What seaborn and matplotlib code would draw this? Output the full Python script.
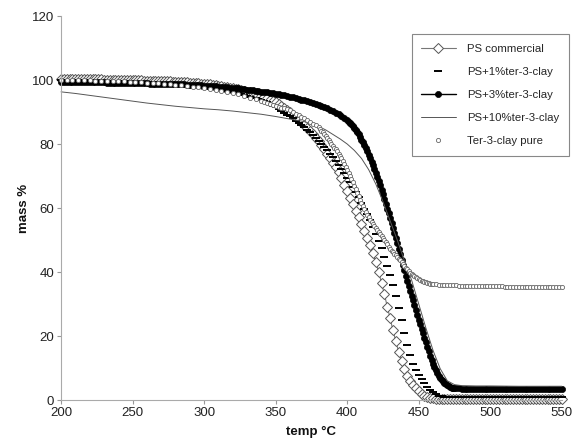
import numpy as np
import pandas as pd
import matplotlib
matplotlib.use("Agg")
import matplotlib.pyplot as plt
import seaborn as sns

# ---------------- data ----------------
labels = ["PS commercial", "PS+1%ter-3-clay", "PS+3%ter-3-clay",
          "PS+10%ter-3-clay", "Ter-3-clay pure"]

# temperature grids (°C)
temp_ps = np.arange(200, 551, 2)
temp_1pct = np.arange(200, 551, 2)
temp_3pct = np.r_[np.arange(200, 400, 2), np.arange(400, 476, 1), np.arange(476, 551, 2)]
temp_10pct = [200, 210, 220, 230, 240, 250, 260, 270, 280, 290, 300, 310, 320, 330,
              340, 350, 360, 370, 380, 385, 390, 395, 400, 405, 410, 415, 420, 425,
              430, 435, 440, 445, 450, 455, 460, 465, 470, 475, 480, 490, 500, 520, 550]
temp_clay = np.r_[np.arange(200, 340, 4), np.arange(340, 380, 2),
                  np.arange(380, 460, 1), np.arange(460, 551, 2)]

mass_ps = [
    100.3, 100.3, 100.3, 100.3, 100.3, 100.3, 100.3, 100.2, 100.2, 100.2,
    100.2, 100.2, 100.2, 100.2, 100.2, 100.1, 100.1, 100.1, 100.1, 100.1,
    100.1, 100.0, 100.0, 100.0, 100.0, 99.9, 99.9, 99.9, 99.9, 99.8,
    99.8, 99.8, 99.8, 99.7, 99.7, 99.7, 99.7, 99.6, 99.6, 99.5,
    99.5, 99.4, 99.4, 99.3, 99.3, 99.2, 99.1, 99.0, 99.0, 98.9,
    98.8, 98.7, 98.6, 98.5, 98.4, 98.2, 98.1, 97.9, 97.8, 97.6,
    97.5, 97.3, 97.1, 96.8, 96.6, 96.3, 96.1, 95.8, 95.6, 95.3,
    95.0, 94.7, 94.3, 93.9, 93.5, 93.0, 92.5, 91.9, 91.3, 90.6,
    89.9, 89.2, 88.4, 87.6, 86.8, 85.9, 85.0, 84.0, 83.0, 81.9,
    80.8, 79.6, 78.4, 77.0, 75.6, 74.2, 72.8, 71.3, 69.5, 67.3,
    65.2, 63.2, 61.2, 59.1, 57.1, 55.0, 52.8, 50.6, 48.3, 45.8,
    43.0, 40.0, 36.6, 33.0, 29.2, 25.5, 21.8, 18.3, 15.0, 12.1,
    9.6, 7.6, 6.0, 4.7, 3.6, 2.7, 2.0, 1.4, 1.0, 0.7,
    0.5, 0.4, 0.35, 0.3, 0.3,
    0.3, 0.3, 0.3, 0.3, 0.3, 0.3, 0.3, 0.3, 0.3, 0.3,
    0.3, 0.3, 0.3, 0.3, 0.3, 0.3, 0.3, 0.3, 0.3, 0.3,
    0.3, 0.3, 0.3, 0.3, 0.3, 0.3, 0.3, 0.3, 0.3, 0.3,
    0.3, 0.3, 0.3, 0.3, 0.3, 0.3, 0.3, 0.3, 0.3, 0.3, 0.3,
]

mass_1pct = [
    100.0, 100.0, 100.0, 100.0, 99.9, 99.9, 99.9, 99.9, 99.9, 99.8,
    99.8, 99.8, 99.8, 99.8, 99.8, 99.7, 99.7, 99.7, 99.7, 99.6,
    99.6, 99.6, 99.6, 99.5, 99.5, 99.5, 99.5, 99.4, 99.4, 99.3,
    99.3, 99.3, 99.3, 99.2, 99.2, 99.1, 99.1, 99.0, 99.0, 98.9,
    98.9, 98.8, 98.8, 98.7, 98.6, 98.5, 98.4, 98.3, 98.2, 98.1,
    98.0, 97.8, 97.7, 97.5, 97.4, 97.2, 97.1, 96.9, 96.7, 96.5,
    96.3, 96.0, 95.8, 95.5, 95.3, 95.0, 94.8, 94.5, 94.3, 94.0,
    93.8, 93.4, 93.0, 92.5, 92.0, 91.5, 91.0, 90.4, 89.8, 89.2,
    88.6, 88.0, 87.3, 86.6, 85.9, 85.2, 84.4, 83.6, 82.8, 81.9,
    81.0, 80.0, 79.0, 78.0, 76.9, 75.8, 74.6, 73.4, 72.1, 70.8,
    69.5, 68.0, 66.5, 64.9, 63.3, 61.6, 59.8, 58.0, 56.1, 54.1,
    52.0, 49.8, 47.4, 44.8, 42.0, 39.0, 35.8, 32.4, 28.8, 25.0,
    21.0, 17.2, 14.0, 11.4, 9.4, 7.8, 6.5, 5.3, 4.2, 3.2,
    2.4, 1.8, 1.4, 1.1, 1.0,
    0.9, 0.9, 0.9, 0.8, 0.8, 0.8, 0.8, 0.8, 0.8, 0.8,
    0.8, 0.8, 0.8, 0.8, 0.8, 0.8, 0.8, 0.8, 0.8, 0.8,
    0.8, 0.8, 0.8, 0.8, 0.8, 0.8, 0.8, 0.8, 0.8, 0.8,
    0.8, 0.8, 0.8, 0.8, 0.8, 0.8, 0.8, 0.8, 0.8, 0.8, 0.8,
]

mass_3pct = [
    99.5, 99.5, 99.5, 99.5, 99.5, 99.4, 99.4, 99.4, 99.4, 99.4,
    99.4, 99.4, 99.3, 99.3, 99.3, 99.3, 99.2, 99.2, 99.2, 99.2,
    99.2, 99.1, 99.1, 99.1, 99.1, 99.0, 99.0, 99.0, 99.0, 99.0,
    99.0, 98.9, 98.9, 98.9, 98.8, 98.8, 98.8, 98.8, 98.7, 98.7,
    98.7, 98.6, 98.6, 98.6, 98.5, 98.5, 98.4, 98.4, 98.3, 98.3,
    98.2, 98.2, 98.1, 98.0, 98.0, 97.9, 97.8, 97.8, 97.7, 97.6,
    97.6, 97.5, 97.4, 97.3, 97.2, 97.0, 96.9, 96.8, 96.7, 96.5,
    96.4, 96.2, 96.1, 95.9, 95.8, 95.6, 95.5, 95.3, 95.2, 95.0,
    94.8, 94.6, 94.4, 94.1, 93.9, 93.6, 93.4, 93.1, 92.8, 92.5,
    92.2, 91.9, 91.5, 91.1, 90.7, 90.3, 89.8, 89.3, 88.7, 88.1,
    87.4, 87.0, 86.6, 86.1, 85.6, 85.0, 84.4, 83.7, 83.0, 82.2,
    81.4, 80.5, 79.6, 78.6, 77.7, 76.6, 75.6, 74.5, 73.3, 72.1,
    70.9, 69.7, 68.4, 67.1, 65.7, 64.3, 62.8, 61.3, 59.8, 58.3,
    56.8, 55.3, 53.8, 52.2, 50.6, 49.0, 47.3, 45.6, 43.9, 42.2,
    40.5, 38.9, 37.3, 35.7, 34.1, 32.6, 31.1, 29.6, 28.1, 26.6,
    25.1, 23.6, 22.2, 20.8, 19.4, 18.0, 16.6, 15.2, 13.9, 12.6,
    11.4, 10.3, 9.3, 8.4, 7.6, 6.9, 6.3, 5.8, 5.3, 4.9,
    4.6, 4.3, 4.1, 3.9, 3.8, 3.7,
    3.6, 3.6, 3.5, 3.5, 3.5, 3.5, 3.5, 3.5, 3.5, 3.5,
    3.5, 3.5, 3.5, 3.5, 3.5, 3.5, 3.5, 3.5, 3.5, 3.5,
    3.5, 3.5, 3.5, 3.5, 3.5, 3.5, 3.5, 3.5, 3.5, 3.5,
    3.5, 3.5, 3.5, 3.5, 3.5, 3.5, 3.5, 3.5,
]

mass_10pct = [
    96.3, 95.8, 95.2, 94.6, 94.0, 93.4, 92.8, 92.3, 91.8, 91.4,
    91.0, 90.7, 90.3, 89.8, 89.3, 88.6, 87.8, 87.0, 85.5,
    84.4, 83.0, 81.6, 80.0, 78.0, 75.5, 72.0, 67.5, 62.0, 56.0,
    50.0, 43.5, 37.5, 30.0, 22.5, 15.5, 9.8, 6.0, 4.8, 4.5,
    4.4, 4.4, 4.3, 4.3,
]

mass_clay = [
    100.0, 100.0, 100.0, 99.9, 99.9, 99.9, 99.8, 99.8, 99.7, 99.7,
    99.6, 99.6, 99.5, 99.4, 99.3, 99.2, 99.1, 99.0, 98.9, 98.7,
    98.5, 98.3, 98.1, 97.9, 97.7, 97.5, 97.2, 96.9, 96.6, 96.3,
    96.0, 95.5, 95.0, 94.5, 94.0,
    93.5, 93.2, 92.9, 92.6, 92.3, 92.0, 91.7, 91.4, 91.1, 90.8,
    90.5, 90.0, 89.5, 89.0, 88.5, 88.0, 87.5, 87.0, 86.4, 85.8,
    85.2, 84.7, 84.2, 83.7, 83.1, 82.5, 81.9, 81.3, 80.7, 80.1,
    79.5, 78.9, 78.3, 77.7, 77.0, 76.3, 75.5, 74.7, 73.8, 72.9,
    72.0, 71.0, 70.0, 69.0, 68.0, 67.0, 65.9, 64.8, 63.7, 62.6,
    61.5, 60.6, 59.7, 58.8, 57.9, 57.1, 56.4, 55.7, 55.0, 54.3,
    53.6, 53.0, 52.4, 51.8, 51.2, 50.6, 50.0, 49.3, 48.6, 47.9,
    47.2, 46.7, 46.2, 45.7, 45.2, 44.7, 44.2, 43.7, 43.2, 42.6,
    42.0, 41.4, 40.8, 40.3, 39.8, 39.4, 39.0, 38.6, 38.3, 38.0,
    37.7, 37.5, 37.3, 37.1, 36.9, 36.8, 36.6, 36.5, 36.4, 36.3,
    36.2, 36.1, 36.0, 36.0, 35.9, 35.9, 35.8, 35.8, 35.8, 35.7,
    35.7, 35.7, 35.7, 35.6, 35.6, 35.6, 35.6, 35.6, 35.6, 35.5,
    35.5, 35.5, 35.5, 35.5, 35.5, 35.4, 35.4, 35.4, 35.4, 35.4,
    35.4, 35.4, 35.3, 35.3, 35.3, 35.3, 35.3, 35.3, 35.3, 35.2,
    35.2, 35.2, 35.2, 35.2, 35.2, 35.2,
]

x_ticks = [200, 250, 300, 350, 400, 450, 500, 550]
y_ticks = [0, 20, 40, 60, 80, 100, 120]

# ---------------- figure ----------------
sns.set_style("white")
plt.rcParams["font.family"] = ["Liberation Sans", "DejaVu Sans"]

fig = plt.figure(figsize=(5.84, 4.46), dpi=100)
ax = fig.add_axes([0.1045, 0.1031, 0.962 - 0.1045, 0.9641 - 0.1031])


def draw(t, m, label, **kw):
    df = pd.DataFrame({"temp": np.asarray(t, dtype=float), "mass": np.asarray(m, dtype=float)})
    sns.lineplot(data=df, x="temp", y="mass", ax=ax, label=label, sort=False,
                 estimator=None, clip_on=False, **kw)


draw(temp_ps, mass_ps, labels[0], color="#777777", lw=0.8, marker="D",
     markersize=5.2, markerfacecolor="white", markeredgecolor="#555555",
     markeredgewidth=0.7)
draw(temp_1pct, mass_1pct, labels[1], color="black", linestyle="", marker="_",
     markersize=5.5, markeredgecolor="black", markeredgewidth=1.4)
draw(temp_3pct, mass_3pct, labels[2], color="black", lw=1.0, marker="o",
     markersize=4.4, markerfacecolor="black", markeredgecolor="black",
     markeredgewidth=0.5)
draw(temp_10pct, mass_10pct, labels[3], color="#555555", lw=0.7)
draw(temp_clay, mass_clay, labels[4], color="#666666", linestyle="", marker="o",
     markersize=3.0, markerfacecolor="white", markeredgecolor="#666666",
     markeredgewidth=0.6)

ax.set_xlim(200, 550)
ax.set_ylim(0, 120)
ax.set_xticks(x_ticks)
ax.set_yticks(y_ticks)
ax.tick_params(axis="both", which="major", direction="out", length=3, width=0.8,
               color="#999999", labelsize=9.5, labelcolor="#222222", pad=2,
               left=True, bottom=True)
for side in ["top", "right"]:
    ax.spines[side].set_visible(False)
for side in ["left", "bottom"]:
    ax.spines[side].set_color("#aaaaaa")
    ax.spines[side].set_linewidth(0.8)

ax.set_xlabel("temp °C", fontsize=9.5, fontweight="bold", color="#111111", labelpad=5)
ax.set_ylabel("mass %", fontsize=9.5, fontweight="bold", color="#111111", labelpad=1)

handles, labs = ax.get_legend_handles_labels()
leg = ax.legend(handles, labs, loc="upper left", bbox_to_anchor=(0.705, 0.924),
                bbox_transform=fig.transFigure, frameon=True, fancybox=False,
                edgecolor="#888888", framealpha=1, fontsize=8.2, labelspacing=1.15,
                handlelength=3.0, handletextpad=1.0, borderpad=0.85, borderaxespad=0)
leg.get_frame().set_linewidth(0.8)

fig.savefig("out.png", dpi=100)
